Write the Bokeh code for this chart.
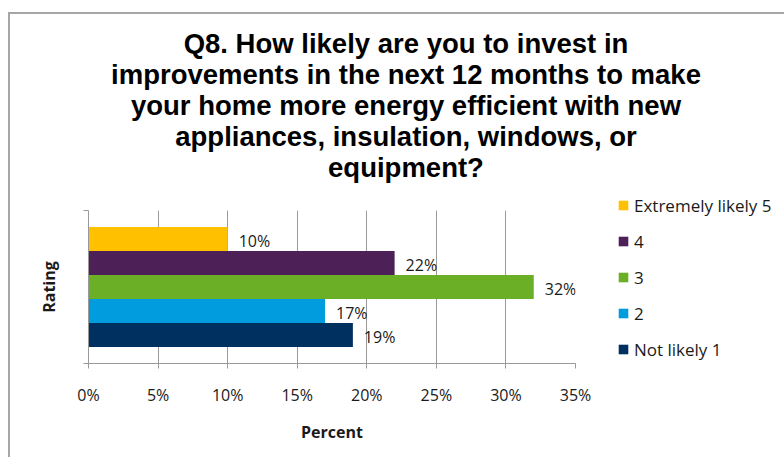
from bokeh.plotting import figure
from bokeh.layouts import column
from bokeh.models import (ColumnDataSource, Range1d, FixedTicker, Div,
                          LabelSet, Legend, LegendItem, PrintfTickFormatter)
from bokeh.core.properties import value
from bokeh.embed import file_html
from bokeh.resources import INLINE

# ---- data ----
ratings = ["Extremely likely 5", "4", "3", "2", "Not likely 1"]
percents = [10, 22, 32, 17, 19]
colors = ["#FFC000", "#4D2157", "#6BAF26", "#009CDE", "#00305F"]
x_ticks = [0, 5, 10, 15, 20, 25, 30, 35]
title_lines = [
    "Q8. How likely are you to invest in",
    "improvements in the next 12 months to make",
    "your home more energy efficient with new",
    "appliances, insulation, windows, or",
    "equipment?",
]
x_label = "Percent"
y_label = "Rating"

n = len(ratings)
pos = [n - 1 - i for i in range(n)]          # first rating on top
labels = [f"{v}%" for v in percents]
src = ColumnDataSource(dict(rating=ratings, pos=pos, pct=percents, color=colors, label=labels))

FONT = "Open Sans"
GRAY = "#999999"
TXT = "#1a1a1a"
PAD = 0.6875
y_lo, y_hi = -0.5 - PAD, n - 0.5 + PAD

# ---- title block ----
title_div = Div(
    text=('<div style="width:776px;box-sizing:border-box;padding:9px 0 0 6px;text-align:center;'
          'font-family:\'Liberation Sans\';font-weight:bold;font-size:27.5px;line-height:31px;'
          'color:#000;">' + "<br>".join(title_lines) + '</div>'),
    width=775, height=165)

# ---- chart ----
p = figure(frame_width=487, frame_height=153, output_backend="svg", toolbar_location=None,
           title=None, y_range=Range1d(y_lo, y_hi), x_range=Range1d(0, 35),
           min_border_left=78, min_border_right=207, min_border_top=21, min_border_bottom=94,
           background_fill_color="white", border_fill_color="white")
p.outline_line_color = None

bars = p.hbar(y="pos", left=0, right="pct", height=1.0, fill_color="color",
              line_color=None, source=src)

p.add_layout(LabelSet(x="pct", y="pos", text="label", source=src, x_offset=11, y_offset=-2,
                      text_baseline="middle", text_font=value(FONT), text_font_size="16px",
                      text_color=TXT))

# x axis
xa = p.xaxis[0]
xa.ticker = FixedTicker(ticks=x_ticks)
xa.formatter = PrintfTickFormatter(format="%d%%")
xa.axis_line_color = GRAY
xa.major_tick_line_color = GRAY
xa.major_tick_out = 5
xa.major_tick_in = 0
xa.minor_tick_line_color = None
xa.major_label_standoff = 15
xa.major_label_text_font = FONT
xa.major_label_text_font_size = "16px"
xa.major_label_text_color = TXT
xa.axis_label = x_label
xa.axis_label_text_font = FONT
xa.axis_label_text_font_style = "bold"
xa.axis_label_text_font_size = "16px"
xa.axis_label_text_color = TXT
xa.axis_label_standoff = 12

p.xgrid.ticker = FixedTicker(ticks=x_ticks)
p.xgrid.grid_line_color = GRAY
p.ygrid.grid_line_color = None

# y axis: only the frame-boundary ticks, no labels
ya = p.yaxis[0]
ya.ticker = FixedTicker(ticks=[y_lo, y_hi])
ya.major_label_overrides = {y_lo: "", y_hi: ""}
ya.major_label_standoff = 0
ya.major_tick_out = 5
ya.major_tick_in = 0
ya.minor_tick_line_color = None
ya.axis_line_color = GRAY
ya.major_tick_line_color = GRAY
ya.axis_label = y_label
ya.axis_label_text_font = FONT
ya.axis_label_text_font_style = "bold"
ya.axis_label_text_font_size = "16px"
ya.axis_label_text_color = TXT
ya.axis_label_standoff = 24

legend = Legend(items=[LegendItem(label=value(r), renderers=[bars], index=i)
                       for i, r in enumerate(ratings)],
                location=(42, 2), margin=0, padding=0, border_line_color=None,
                background_fill_alpha=0, glyph_width=12, glyph_height=12,
                label_standoff=5, label_height=24, spacing=12,
                label_text_font=FONT, label_text_font_size="17px", label_text_color=TXT)
p.add_layout(legend, "right")

layout = column(title_div, p, spacing=0)
layout.margin = (12, 0, 0, 8)
layout.styles = {"border-left": "2px solid #a6a6a6", "border-top": "2px solid #a6a6a6"}

open("out.html", "w").write(file_html(layout, INLINE))
